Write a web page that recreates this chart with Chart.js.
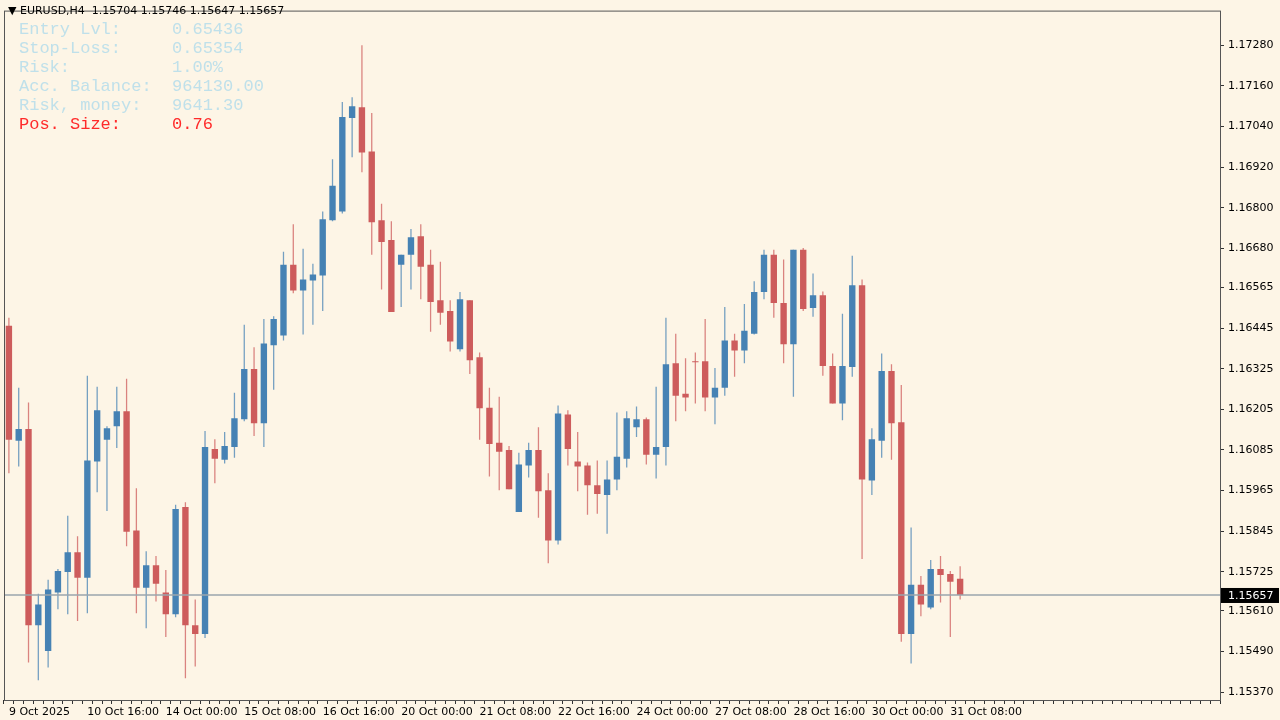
<!DOCTYPE html>
<html>
<head>
<meta charset="utf-8">
<script src="https://cdn.jsdelivr.net/npm/chart.js@4.4.1/dist/chart.umd.min.js"></script>
<style>
  html, body { margin: 0; padding: 0; background: #fdf5e6; }
  #wrap { position: relative; width: 1280px; height: 720px; }
  #info { position: absolute; left: 19px; top: 20px; font: 17px "Liberation Mono", monospace; line-height: 19px; color: #bfe0ea; white-space: pre; }
  #title { position: absolute; left: 8px; top: 4px; font: 11px "DejaVu Sans", sans-serif; color: #000; white-space: pre; }
</style>
</head>
<body>
<div id="wrap">
  <canvas id="chart" width="1280" height="720"></canvas>
  <div id="title">▼ EURUSD,H4  1.15704 1.15746 1.15647 1.15657</div>
  <div id="info">Entry Lvl:     0.65436
Stop-Loss:     0.65354
Risk:          1.00%
Acc. Balance:  964130.00
Risk, money:   9641.30
<span style="color:#ff2a2a">Pos. Size:     0.76</span></div>
</div>
<script>
// H4 candles, EURUSD
var opens = [1.16452,1.16112,1.16147,1.15568,1.15492,1.15664,1.15725,1.15783,1.15708,1.16051,1.16115,1.16155,1.16199,1.15847,1.15678,1.15745,1.15664,1.15600,1.15917,1.15568,1.15542,1.16088,1.16056,1.16094,1.16176,1.16324,1.16164,1.16394,1.16423,1.16632,1.16556,1.16585,1.16600,1.16763,1.16789,1.17065,1.17097,1.16966,1.16763,1.16705,1.16632,1.16661,1.16716,1.16632,1.16527,1.16495,1.16382,1.16527,1.16359,1.16210,1.16106,1.16085,1.15902,1.16039,1.16085,1.15966,1.15818,1.16190,1.16051,1.16039,1.15981,1.15952,1.15998,1.16059,1.16152,1.16176,1.16071,1.16094,1.16341,1.16251,1.16347,1.16347,1.16240,1.16269,1.16408,1.16379,1.16428,1.16551,1.16661,1.16519,1.16397,1.16676,1.16504,1.16542,1.16333,1.16222,1.16330,1.16571,1.15995,1.16112,1.16318,1.16167,1.15542,1.15687,1.15620,1.15734,1.15719,1.15705];
var highs = [1.16475,1.16269,1.16225,1.15661,1.15702,1.15734,1.15891,1.15830,1.16304,1.16272,1.16155,1.16272,1.16295,1.15972,1.15786,1.15772,1.15731,1.15923,1.15931,1.15644,1.16141,1.16117,1.16138,1.16254,1.16455,1.16388,1.16472,1.16480,1.16670,1.16751,1.16679,1.16635,1.16789,1.16943,1.17112,1.17126,1.17280,1.17080,1.16812,1.16760,1.16661,1.16737,1.16751,1.16676,1.16641,1.16527,1.16551,1.16527,1.16373,1.16269,1.16242,1.16097,1.16077,1.16106,1.16152,1.16016,1.16216,1.16202,1.16138,1.16048,1.16054,1.16054,1.16196,1.16199,1.16213,1.16181,1.16272,1.16475,1.16428,1.16356,1.16373,1.16472,1.16327,1.16507,1.16428,1.16516,1.16583,1.16676,1.16676,1.16647,1.16676,1.16681,1.16606,1.16553,1.16370,1.16487,1.16658,1.16588,1.16149,1.16370,1.16338,1.16277,1.15856,1.15713,1.15760,1.15772,1.15728,1.15742];
var lows = [1.16016,1.16036,1.15458,1.15405,1.15443,1.15615,1.15600,1.15580,1.15603,1.15960,1.15905,1.16091,1.15801,1.15603,1.15559,1.15638,1.15533,1.15591,1.15411,1.15446,1.15530,1.15987,1.16045,1.16062,1.16170,1.16126,1.16094,1.16263,1.16408,1.16548,1.16426,1.16455,1.16495,1.16760,1.16783,1.16949,1.16905,1.16661,1.16559,1.16492,1.16507,1.16559,1.16530,1.16434,1.16455,1.16376,1.16376,1.16309,1.16115,1.16007,1.15966,1.15969,1.15902,1.16004,1.15885,1.15751,1.15806,1.16039,1.15963,1.15894,1.15897,1.15838,1.15966,1.16033,1.16123,1.16042,1.16001,1.16039,1.16170,1.16199,1.16222,1.16199,1.16161,1.16245,1.16301,1.16341,1.16426,1.16530,1.16475,1.16341,1.16242,1.16495,1.16478,1.16304,1.16222,1.16173,1.16301,1.15763,1.15952,1.16062,1.16056,1.15519,1.15455,1.15594,1.15615,1.15635,1.15533,1.15644];
var closes = [1.16115,1.16147,1.15568,1.15629,1.15673,1.15728,1.15783,1.15708,1.16054,1.16202,1.16149,1.16199,1.15844,1.15678,1.15745,1.15690,1.15600,1.15911,1.15568,1.15542,1.16094,1.16059,1.16097,1.16179,1.16324,1.16164,1.16399,1.16472,1.16632,1.16556,1.16588,1.16603,1.16766,1.16865,1.17068,1.17100,1.16963,1.16757,1.16699,1.16492,1.16661,1.16713,1.16626,1.16522,1.16490,1.16405,1.16530,1.16350,1.16208,1.16103,1.16080,1.15969,1.16042,1.16085,1.15963,1.15818,1.16193,1.16088,1.16036,1.15981,1.15955,1.15998,1.16065,1.16179,1.16176,1.16071,1.16094,1.16338,1.16245,1.16240,1.16344,1.16240,1.16269,1.16408,1.16379,1.16437,1.16551,1.16661,1.16519,1.16397,1.16676,1.16501,1.16542,1.16333,1.16222,1.16333,1.16571,1.15998,1.16117,1.16318,1.16164,1.15542,1.15687,1.15629,1.15734,1.15716,1.15696,1.15657];
var dateLabels = ["9 Oct 2025","10 Oct 16:00","14 Oct 00:00","15 Oct 08:00","16 Oct 16:00","20 Oct 00:00","21 Oct 08:00","22 Oct 16:00","24 Oct 00:00","27 Oct 08:00","28 Oct 16:00","30 Oct 00:00","31 Oct 08:00"];
var priceTicks = [1.17280,1.17160,1.17040,1.16920,1.16800,1.16680,1.16565,1.16445,1.16325,1.16205,1.16085,1.15965,1.15845,1.15725,1.15610,1.15490,1.15370];
var totalSlots = 124;
var bidPrice = 1.15657;

var UP = "#4682b4", DOWN = "#cd5c5c";
var labels = [], bodies = [], wicks = [], colors = [], wickColors = [];
for (var i = 0; i < totalSlots; i++) {
  labels.push(i % 8 === 0 && dateLabels[i / 8] ? dateLabels[i / 8] : "");
  if (i < opens.length) {
    bodies.push([opens[i], closes[i]]);
    wicks.push([lows[i], highs[i]]);
    var up = closes[i] >= opens[i];
    colors.push(up ? UP : DOWN);
    wickColors.push(up ? "rgba(70,130,180,0.75)" : "rgba(205,92,92,0.75)");
  } else {
    bodies.push(null);
    wicks.push(null);
    colors.push(UP);
    wickColors.push(UP);
  }
}

var overlay = {
  id: "overlay",
  beforeDraw: function (chart) {
    var c = chart.ctx;
    c.save();
    c.fillStyle = "#fdf5e6";
    c.fillRect(0, 0, chart.width, chart.height);
    c.restore();
  },
  afterDatasetsDraw: function (chart) {
    var c = chart.ctx, a = chart.chartArea, y = chart.scales.y.getPixelForValue(bidPrice);
    c.save();
    c.strokeStyle = "#9aa4ad";
    c.lineWidth = 1.5;
    c.beginPath();
    c.moveTo(a.left, y); c.lineTo(a.right, y); c.stroke();
    c.strokeStyle = "#555";
    c.lineWidth = 1;
    c.strokeRect(a.left + 0.5, a.top + 0.5, a.right - a.left, a.bottom - a.top);
    c.fillStyle = "#000";
    c.fillRect(a.right + 1, y - 7, 58, 15);
    c.fillStyle = "#fff";
    c.font = "11px 'DejaVu Sans'";
    c.textBaseline = "middle";
    c.fillText(bidPrice.toFixed(5), a.right + 8, y + 1);
    c.restore();
  }
};

new Chart(document.getElementById("chart"), {
  type: "bar",
  data: {
    labels: labels,
    datasets: [
      { data: wicks, backgroundColor: wickColors, barPercentage: 0.13, categoryPercentage: 1, grouped: false },
      { data: bodies, backgroundColor: colors, barPercentage: 0.65, categoryPercentage: 1, grouped: false, minBarLength: 1 }
    ]
  },
  options: {
    responsive: false,
    animation: false,
    layout: { padding: { left: 4, top: 0, right: 0, bottom: 0 } },
    plugins: { legend: { display: false }, tooltip: { enabled: false } },
    scales: {
      x: {
        offset: true,
        grid: { drawOnChartArea: false, color: "#333", tickLength: 4 },
        border: { display: false },
        afterFit: function (s) { s.height = 20; },
        ticks: {
          autoSkip: false, maxRotation: 0, align: "start", padding: 2,
          color: "#000", font: { family: "DejaVu Sans", size: 11 },
          callback: function (v, i) { return labels[i]; }
        }
      },
      y: {
        position: "right",
        min: 1.15347, max: 1.17382,
        grid: { drawOnChartArea: false, color: "#333", tickLength: 4 },
        border: { display: false },
        afterFit: function (s) { s.width = 60; },
        afterBuildTicks: function (s) { s.ticks = priceTicks.map(function (v) { return { value: v }; }); },
        ticks: {
          padding: 4, color: "#000", font: { family: "DejaVu Sans", size: 11 },
          callback: function (v) { return v.toFixed(5); }
        }
      }
    }
  },
  plugins: [overlay]
});
</script>
</body>
</html>
